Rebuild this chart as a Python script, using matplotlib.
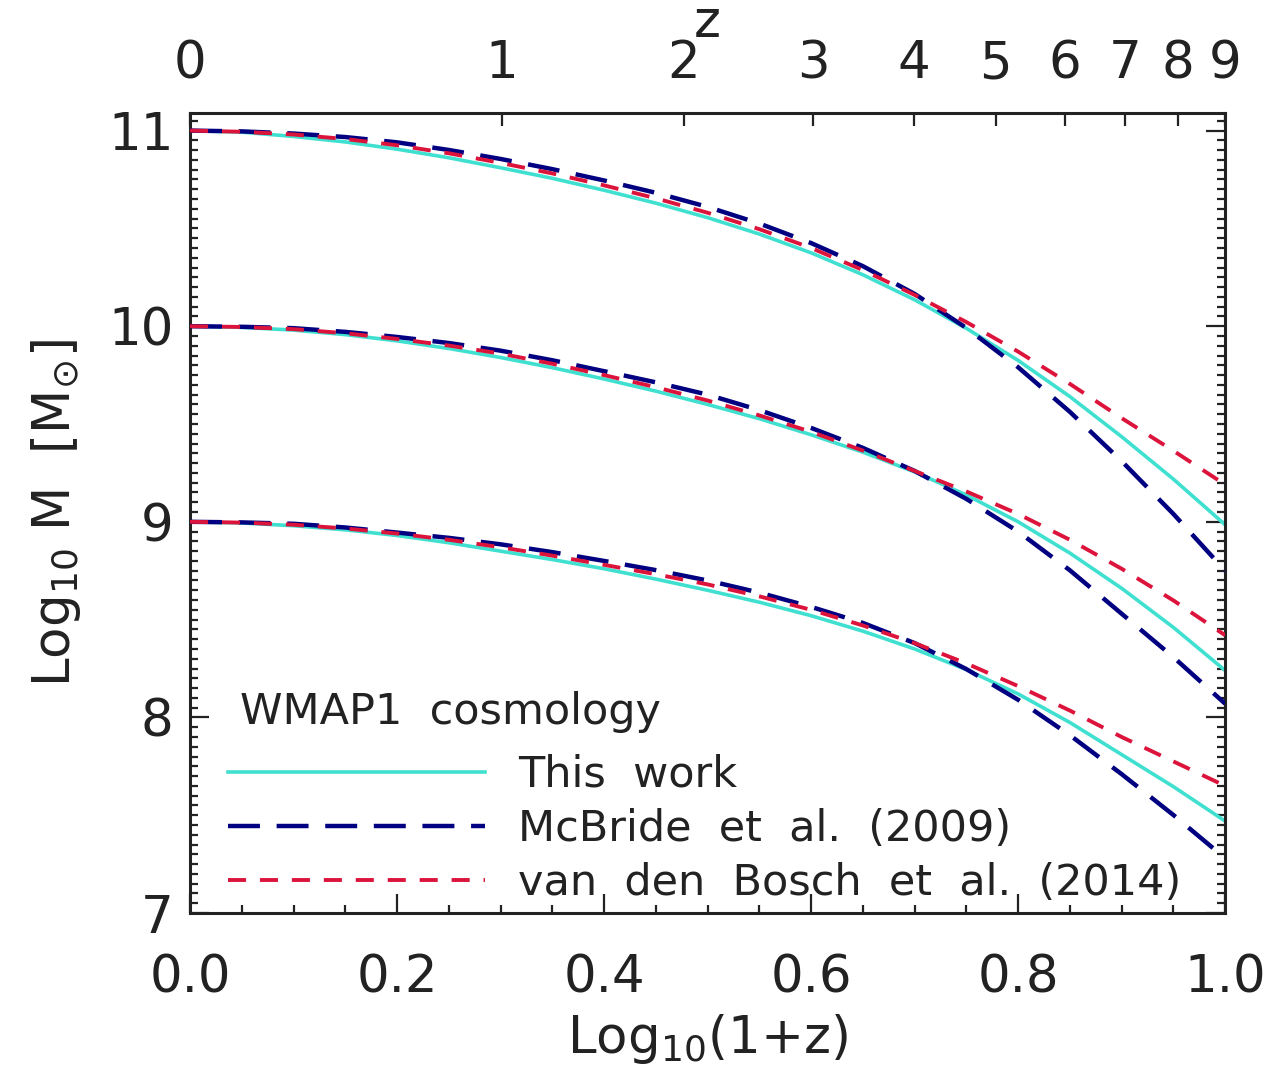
import matplotlib
matplotlib.use('Agg')
import matplotlib.pyplot as plt
import numpy as np
from matplotlib.lines import Line2D
from matplotlib.ticker import MultipleLocator

plt.rcParams['lines.scale_dashes'] = False
plt.rcParams['font.family'] = ['DejaVu Sans']
plt.rcParams['mathtext.fontset'] = 'dejavusans'

# log10(1+z) sample positions
log1pz = [0.00, 0.05, 0.10, 0.15, 0.20, 0.25, 0.30, 0.35, 0.40, 0.45, 0.50,
          0.55, 0.60, 0.65, 0.70, 0.75, 0.80, 0.85, 0.90, 0.95, 1.00]

# log10 M for three final masses (11, 10, 9)
this_work_11 = [11.00, 10.992, 10.97, 10.942, 10.905, 10.861, 10.81, 10.756, 10.695, 10.629, 10.555,
                10.471, 10.375, 10.263, 10.135, 9.989, 9.825, 9.640, 9.435, 9.218, 8.985]
mcbride_11   = [11.00, 10.996, 10.985, 10.967, 10.94, 10.901, 10.855, 10.803, 10.745, 10.682, 10.61,
                10.525, 10.425, 10.307, 10.165, 9.991, 9.79, 9.562, 9.31, 9.040, 8.75]
vdbosch_11   = [11.00, 10.994, 10.98, 10.957, 10.925, 10.884, 10.835, 10.781, 10.72, 10.654, 10.58,
                10.496, 10.40, 10.287, 10.16, 10.021, 9.87, 9.705, 9.53, 9.363, 9.19]

this_work_10 = [10.00, 9.994, 9.98, 9.957, 9.925, 9.886, 9.84, 9.788, 9.73, 9.668, 9.60,
                9.527, 9.445, 9.356, 9.255, 9.137, 9.00, 8.840, 8.66, 8.460, 8.24]
mcbride_10   = [10.00, 9.997, 9.99, 9.971, 9.945, 9.914, 9.875, 9.826, 9.77, 9.713, 9.65,
                9.571, 9.48, 9.378, 9.26, 9.117, 8.95, 8.752, 8.53, 8.308, 8.07]
vdbosch_10   = [10.00, 9.996, 9.985, 9.964, 9.935, 9.901, 9.86, 9.808, 9.75, 9.688, 9.62,
                9.544, 9.46, 9.364, 9.26, 9.155, 9.04, 8.908, 8.76, 8.598, 8.42]

this_work_9 = [9.00, 8.994, 8.98, 8.959, 8.93, 8.893, 8.85, 8.807, 8.76, 8.707, 8.65,
               8.589, 8.52, 8.441, 8.35, 8.244, 8.12, 7.974, 7.81, 7.646, 7.47]
mcbride_9   = [9.00, 8.997, 8.99, 8.971, 8.945, 8.918, 8.885, 8.845, 8.80, 8.753, 8.70,
               8.638, 8.565, 8.483, 8.38, 8.247, 8.09, 7.909, 7.71, 7.501, 7.28]
vdbosch_9   = [9.00, 8.996, 8.985, 8.966, 8.94, 8.908, 8.87, 8.827, 8.78, 8.732, 8.68,
               8.619, 8.55, 8.470, 8.38, 8.276, 8.16, 8.035, 7.90, 7.775, 7.65]

x_ticks = [0.0, 0.2, 0.4, 0.6, 0.8, 1.0]
x_ticklabels = ['0.0', '0.2', '0.4', '0.6', '0.8', '1.0']
y_ticks = [7, 8, 9, 10, 11]
z_ticks = [0, 1, 2, 3, 4, 5, 6, 7, 8, 9]

legend_title = 'WMAP1  cosmology'
labels = ['This  work', 'McBride  et  al.  (2009)', 'van  den  Bosch  et  al.  (2014)']

c_this = '#40E0D0'
c_mcb = '#000080'
c_vdb = '#DC143C'
c_ink = '#222222'

fig = plt.figure(figsize=(12.67, 10.70), dpi=100)
ax = fig.add_axes([0.150, 0.1467, 0.817, 0.7477])

for tw, mc, vb in [(this_work_11, mcbride_11, vdbosch_11),
                   (this_work_10, mcbride_10, vdbosch_10),
                   (this_work_9, mcbride_9, vdbosch_9)]:
    ax.plot(log1pz, tw, color=c_this, lw=2.6, zorder=2)
    ax.plot(log1pz, mc, color=c_mcb, lw=3.2, dashes=(23, 12), zorder=3)
    ax.plot(log1pz, vb, color=c_vdb, lw=2.8, dashes=(13, 10), zorder=4)

ax.set_xlim(0, 1)
ax.set_ylim(7, 11.09)
ax.set_xticks(x_ticks)
ax.set_xticklabels(x_ticklabels)
ax.set_yticks(y_ticks)
ax.xaxis.set_minor_locator(MultipleLocator(0.05))
ax.yaxis.set_minor_locator(MultipleLocator(0.05))
ax.tick_params(which='both', direction='in', top=False, right=True, width=1.6, color=c_ink)
ax.tick_params(which='major', length=14, labelsize=37, labelcolor=c_ink)
ax.tick_params(axis='x', which='major', pad=29)
ax.tick_params(axis='y', which='major', pad=12)
ax.tick_params(which='minor', length=6)
for s in ax.spines.values():
    s.set_linewidth(2.2)
    s.set_color(c_ink)

ax.set_xlabel(r'Log$_{10}$(1+z)', fontsize=37, labelpad=6, color=c_ink)
ax.set_ylabel(r'Log$_{10}$ M  [M$_{\odot}$]', fontsize=37, labelpad=18, color=c_ink)

ax2 = ax.twiny()
ax2.set_xlim(0, 1)
ax2.set_xticks(np.log10(1 + np.array(z_ticks)))
ax2.set_xticklabels([str(z) for z in z_ticks])
ax2.tick_params(direction='in', length=9.5, width=1.6, labelsize=37, pad=17,
                color=c_ink, labelcolor=c_ink)
ax2.set_xlabel('z', fontsize=37, labelpad=2, color=c_ink)
for s in ax2.spines.values():
    s.set_visible(False)

ax.text(0.048, 0.251, legend_title, transform=ax.transAxes, fontsize=31,
        ha='left', va='center', color=c_ink)

handles = [Line2D([], [], color=c_this, lw=2.6),
           Line2D([], [], color=c_mcb, lw=3.2, dashes=(23, 12)),
           Line2D([], [], color=c_vdb, lw=2.8, dashes=(13, 10))]
leg = ax.legend(handles, labels, loc='upper left', bbox_to_anchor=(0.037, 0.199),
                frameon=False, fontsize=31, handlelength=5.96, handletextpad=0.76,
                labelspacing=0.28, borderpad=0, borderaxespad=0)
for t in leg.get_texts():
    t.set_color(c_ink)

fig.savefig('out.png', dpi=100)
